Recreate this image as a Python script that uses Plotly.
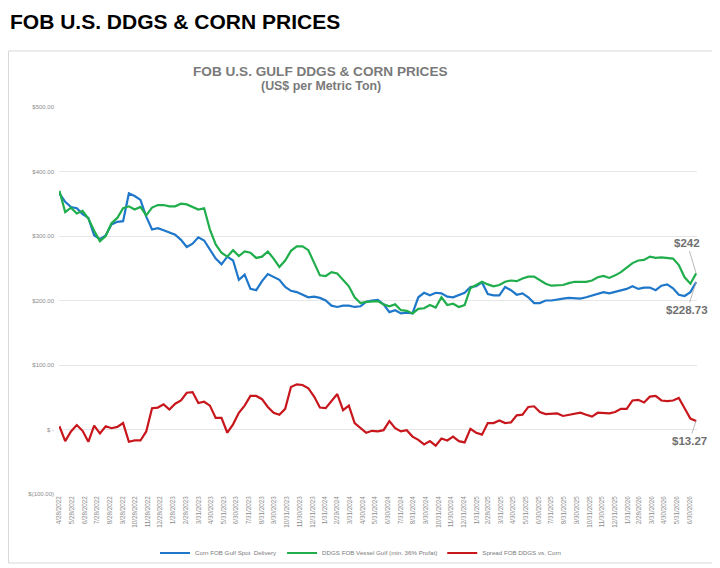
import pandas as pd
import plotly.graph_objects as go

# biweekly observations starting 4/28/2022
start_date = "2022-04-28"
n_points = 111

corn_gulf = [366, 353, 345, 343, 334, 328, 301, 295, 301, 318,
             322, 323, 366, 362, 356, 330, 310, 312, 309, 306,
             302, 294, 283, 288, 298, 293, 278, 265, 256, 268,
             262, 232, 240, 218, 216, 230, 241, 237, 232, 221,
             215, 213, 209, 205, 206, 204, 200, 192, 190, 192,
             192, 190, 191, 198, 200, 201, 194, 182, 185, 180,
             181, 180, 205, 212, 208, 212, 211, 206, 205, 208,
             212, 221, 222, 228, 210, 208, 208, 221, 216, 209,
             211, 205, 196, 196, 200, 200, 202, 203, 204, 204,
             203, 205, 208, 211, 213, 211, 213, 216, 218, 222,
             218, 220, 220, 216, 223, 225, 219, 209, 207, 213,
             228.73]

ddgs_gulf = [370, 337, 344, 335, 339, 327, 308, 292, 300, 320,
             328, 343, 346, 341, 345, 332, 344, 348, 348, 346,
             346, 350, 349, 345, 341, 343, 310, 287, 274, 268,
             278, 269, 276, 274, 266, 268, 276, 265, 252, 262,
             277, 284, 284, 278, 258, 239, 238, 244, 242, 232,
             222, 205, 196, 198, 198, 199, 194, 191, 194, 185,
             184, 180, 187, 188, 193, 189, 205, 193, 195, 190,
             193, 219, 224, 229, 225, 222, 224, 229, 231, 230,
             234, 237, 237, 231, 226, 223, 223, 224, 227, 229,
             229, 229, 231, 236, 238, 235, 239, 244, 251, 258,
             262, 263, 268, 266, 267, 266, 265, 255, 236, 226,
             242]

spread = [5, -18, -3, 7, -2, -19, 6, -6, 5, 2,
          4, 10, -19, -17, -17, -3, 33, 34, 39, 31,
          40, 45, 57, 58, 41, 43, 37, 18, 18, -5,
          8, 26, 37, 52, 52, 47, 35, 26, 23, 32,
          66, 70, 69, 64, 51, 34, 33, 44, 55, 30,
          37, 10, 2, -5, -2, -3, -1, 13, 2, -3,
          -1, -11, -16, -23, -18, -25, -14, -17, -11, -18,
          -20, 1, -5, -8, 10, 10, 14, 10, 11, 22,
          23, 35, 36, 27, 24, 25, 25, 21, 23, 25,
          26, 23, 20, 26, 25, 25, 27, 32, 32, 45,
          46, 42, 51, 52, 45, 44, 45, 49, 33, 17,
          13.27]

tick_labels = ["4/28/2022", "5/28/2022", "6/28/2022", "7/28/2022", "8/28/2022",
               "9/28/2022", "10/28/2022", "11/28/2022", "12/28/2022", "1/28/2023",
               "2/28/2023", "3/31/2023", "4/30/2023", "5/31/2023", "6/30/2023",
               "7/31/2023", "8/31/2023", "9/30/2023", "10/31/2023", "11/30/2023",
               "12/31/2023", "1/31/2024", "2/29/2024", "3/31/2024", "4/30/2024",
               "5/31/2024", "6/30/2024", "7/31/2024", "8/31/2024", "9/30/2024",
               "10/31/2024", "11/30/2024", "12/31/2024", "1/31/2025", "2/28/2025",
               "3/31/2025", "4/30/2025", "5/31/2025", "6/30/2025", "7/31/2025",
               "8/31/2025", "9/30/2025", "10/31/2025", "11/30/2025", "12/31/2025",
               "1/31/2026", "2/28/2026", "3/31/2026", "4/30/2026", "5/31/2026",
               "6/30/2026"]

y_ticks = [-100, 0, 100, 200, 300, 400, 500]
y_tick_labels = ["$(100.00)", "$ -", "$100.00", "$200.00", "$300.00", "$400.00", "$500.00"]

dates = pd.date_range(start_date, periods=n_points, freq="14D")
tick_vals = pd.to_datetime(tick_labels, format="%m/%d/%Y")

FONT = "Liberation Sans, Arial, sans-serif"

# page body keeps an 8px margin, so the figure is 8px smaller than the window
W, H = 712, 560
L, R, T, B = 51, 23, 99, 74
PW, PH = W - L - R, H - T - B


def px_x(x):  # figure pixel -> paper x
    return (x - L) / PW


def px_y(y):  # figure pixel -> paper y
    return (H - B - y) / PH


fig = go.Figure()
fig.add_trace(go.Scatter(x=dates, y=corn_gulf, mode="lines", name="Corn FOB Gulf Spot  Delivery",
                         line=dict(color="#1f77c9", width=2.2)))
fig.add_trace(go.Scatter(x=dates, y=ddgs_gulf, mode="lines", name="DDGS FOB Vessel Gulf (min. 36% Profat)",
                         line=dict(color="#1fae4b", width=2.2)))
fig.add_trace(go.Scatter(x=dates, y=spread, mode="lines", name="Spread FOB DDGS vs. Corn",
                         line=dict(color="#c8161d", width=2.2)))

# end-of-series value labels
end_labels = [(corn_gulf[-1], "$228.73", -9, 28),
              (ddgs_gulf[-1], "$242", -9, -30),
              (spread[-1], "$13.27", -7, 20)]
for val, txt, ax, ay in end_labels:
    fig.add_annotation(x=dates[-1], y=val, text="<b>" + txt + "</b>", showarrow=True,
                       arrowhead=0, arrowwidth=0.8, arrowcolor="#a6a6a6", ax=ax, ay=ay,
                       font=dict(family=FONT, size=11.5, color="#6f6f6f"))

# page heading and chart titles
fig.add_annotation(xref="paper", yref="paper", x=px_x(0), y=px_y(0), xanchor="left", yanchor="top",
                   text="<b>FOB U.S. DDGS & CORN PRICES</b>", showarrow=False,
                   font=dict(family=FONT, size=21, color="black"))
fig.add_annotation(xref="paper", yref="paper", x=px_x(312), y=px_y(63),
                   xanchor="center", yanchor="middle",
                   text="<b>FOB U.S. GULF DDGS & CORN PRICES</b>", showarrow=False,
                   font=dict(family=FONT, size=13.6, color="#7a7a7a"))
fig.add_annotation(xref="paper", yref="paper", x=px_x(313), y=px_y(78),
                   xanchor="center", yanchor="middle",
                   text="<b>(US$ per Metric Ton)</b>", showarrow=False,
                   font=dict(family=FONT, size=12.4, color="#7a7a7a"))

# light frame round the chart
fig.add_shape(type="rect", xref="paper", yref="paper",
              x0=px_x(0.5), x1=px_x(706), y0=px_y(555), y1=px_y(43),
              line=dict(color="#d9d9d9", width=1), fillcolor="rgba(0,0,0,0)", layer="below")

fig.update_layout(
    width=W, height=H,
    margin=dict(l=L, r=R, t=T, b=B),
    paper_bgcolor="white", plot_bgcolor="white",
    font=dict(family=FONT),
    showlegend=True,
    legend=dict(orientation="h", xref="container", yref="container",
                x=353 / W, xanchor="center", y=1 - 545 / H, yanchor="middle",
                font=dict(size=6.2, color="#7a7a7a"), itemwidth=30, bgcolor="rgba(0,0,0,0)"),
)
fig.update_xaxes(range=[pd.Timestamp("2022-04-27"), pd.Timestamp("2026-07-18")],
                 tickvals=tick_vals, ticktext=tick_labels, tickangle=-90,
                 tickfont=dict(size=6.3, color="#8c8c8c"), showgrid=False, zeroline=False,
                 showline=False, ticks="", automargin=False)
fig.update_yaxes(range=[-100, 500], tickvals=y_ticks, ticktext=y_tick_labels,
                 tickfont=dict(size=6, color="#8c8c8c"), showgrid=True, gridcolor="#e6e6e6",
                 gridwidth=1, zeroline=True, zerolinecolor="#e6e6e6", zerolinewidth=1,
                 showline=False, ticks="", ticklabelstandoff=4, automargin=False)

fig.write_html("out.html")
